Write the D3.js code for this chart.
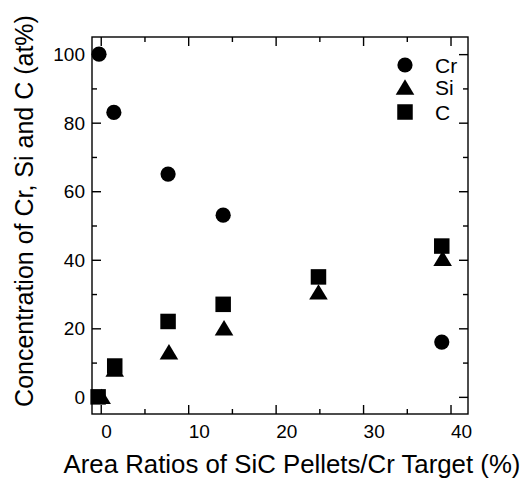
<!DOCTYPE html>
<html>
<head>
<meta charset="utf-8">
<script src="https://cdn.jsdelivr.net/npm/d3@7"></script>
<style>
  body { margin: 0; background: #fff; }
  svg { display: block; font-family: "Liberation Sans", Arial, Helvetica, sans-serif; }
</style>
</head>
<body>
<svg id="chart" width="522" height="479"></svg>
<script>
// ---- data ----
const xCr = [-0.2, 1.5, 7.7, 14.0, 39.0];
const yCr = [100, 83, 65, 53, 16];
const xSi = [0.1, 1.6, 7.8, 14.1, 24.9, 39.1];
const ySi = [0, 8, 13, 20, 30.5, 40.3];
const xC  = [-0.3, 1.6, 7.7, 14.0, 24.9, 39.0];
const yC  = [0, 9, 22, 27, 35, 44];
const xMajorTicks = [0, 10, 20, 30, 40];
const xMinorTicks = [5, 15, 25, 35];
const yMajorTicks = [0, 20, 40, 60, 80, 100];
const yMinorTicks = [10, 30, 50, 70, 90];
const legendLabels = ["Cr", "Si", "C"];
const xTitle = "Area Ratios of SiC Pellets/Cr Target (%)";
const yTitle = "Concentration of Cr, Si and C (at%)";

const svg = d3.select("#chart");
const L = 92, R = 468, T = 37, B = 414;
const x = d3.scaleLinear().domain([-1, 42]).range([L, R]);
const y = d3.scaleLinear().domain([-5, 105]).range([B, T]);

const major = 9, minor = 5, lw = 1.4;

// frame
svg.append("rect").attr("x", L).attr("y", T).attr("width", R - L).attr("height", B - T)
  .attr("fill", "none").attr("stroke", "#000").attr("stroke-width", lw);

// axes: inward ticks on all four sides
function addAxis(axisGen, transform, ticks, size, showLabels) {
  const g = svg.append("g").attr("transform", transform)
    .call(axisGen.tickValues(ticks).tickSizeInner(size).tickSizeOuter(0).tickPadding(0)
      .tickFormat(showLabels ? d3.format("d") : ""));
  g.select(".domain").remove();
  g.selectAll(".tick line").attr("stroke", "#000").attr("stroke-width", lw);
  return g;
}
const tickFont = 19;
// bottom (inward => negative size)
const gb = addAxis(d3.axisBottom(x), `translate(0,${B})`, xMajorTicks, -major, true);
addAxis(d3.axisBottom(x), `translate(0,${B})`, xMinorTicks, -minor, false);
gb.selectAll(".tick text").attr("y", 24).attr("dy", 0).attr("text-anchor", "start")
  .attr("font-size", tickFont).attr("fill", "#000").attr("font-family", "Liberation Sans, Arial, sans-serif");
// top
addAxis(d3.axisTop(x), `translate(0,${T})`, xMajorTicks, -major, false);
addAxis(d3.axisTop(x), `translate(0,${T})`, xMinorTicks, -minor, false);
// left
const gl = addAxis(d3.axisLeft(y), `translate(${L},0)`, yMajorTicks, -major, true);
addAxis(d3.axisLeft(y), `translate(${L},0)`, yMinorTicks, -minor, false);
gl.selectAll(".tick text").attr("x", -7).attr("dy", "0.35em").attr("text-anchor", "end")
  .attr("font-size", tickFont).attr("fill", "#000").attr("font-family", "Liberation Sans, Arial, sans-serif");
// right
addAxis(d3.axisRight(y), `translate(${R},0)`, yMajorTicks, -major, false);
addAxis(d3.axisRight(y), `translate(${R},0)`, yMinorTicks, -minor, false);

// marker shapes
const circleR = 7.6, sq = 15.5;
const triPath = "M0,-8.2L9.3,7.2L-9.3,7.2Z";
function drawCircles(g, xs, ys) {
  g.selectAll(null).data(xs.map((v, i) => [v, ys[i]])).join("circle")
    .attr("cx", d => x(d[0])).attr("cy", d => y(d[1])).attr("r", circleR).attr("fill", "#000");
}
function drawTris(g, xs, ys) {
  g.selectAll(null).data(xs.map((v, i) => [v, ys[i]])).join("path")
    .attr("transform", d => `translate(${x(d[0])},${y(d[1])})`).attr("d", triPath).attr("fill", "#000");
}
function drawSquares(g, xs, ys) {
  g.selectAll(null).data(xs.map((v, i) => [v, ys[i]])).join("rect")
    .attr("x", d => x(d[0]) - sq / 2).attr("y", d => y(d[1]) - sq / 2)
    .attr("width", sq).attr("height", sq).attr("fill", "#000");
}
const pts = svg.append("g");
drawCircles(pts, xCr, yCr);
drawTris(pts, xSi, ySi);
drawSquares(pts, xC, yC);

// legend
const lg = svg.append("g");
const legY = [65, 87.5, 112];
const lx = 405;
lg.append("circle").attr("cx", lx).attr("cy", legY[0]).attr("r", circleR).attr("fill", "#000");
lg.append("path").attr("transform", `translate(${lx},${legY[1]})`).attr("d", triPath).attr("fill", "#000");
lg.append("rect").attr("x", lx - sq / 2).attr("y", legY[2] - sq / 2).attr("width", sq).attr("height", sq).attr("fill", "#000");
legendLabels.forEach((t, i) => {
  lg.append("text").attr("x", 435).attr("y", legY[i]).attr("dy", "0.36em")
    .attr("font-size", 21).attr("fill", "#000").text(t);
});

// axis titles
svg.append("text").attr("x", 292).attr("y", 473).attr("text-anchor", "middle")
  .attr("font-size", 25.8).attr("fill", "#000").text(xTitle);
svg.append("text").attr("transform", `translate(33,211) rotate(-90)`).attr("text-anchor", "middle")
  .attr("font-size", 25).attr("fill", "#000").text(yTitle);
</script>
</body>
</html>
